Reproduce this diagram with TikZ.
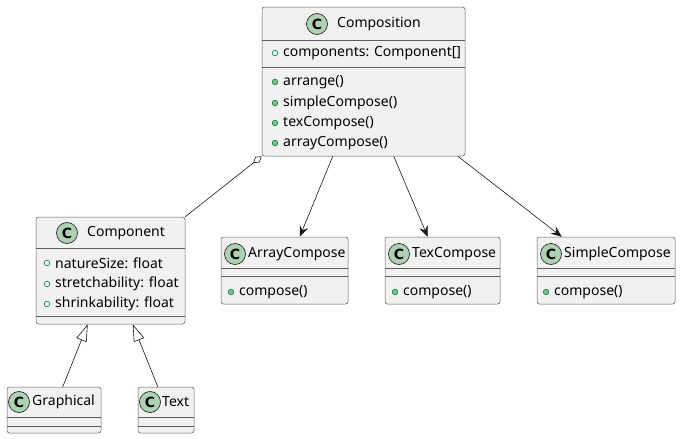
\documentclass[tikz,border=0pt]{standalone}
\usepackage{fontspec}
\setmainfont{Noto Sans}
\newfontfamily\spotfont{DejaVu Sans}
\usetikzlibrary{arrows.meta,calc}
\definecolor{boxfill}{HTML}{F1F1F1}
\definecolor{boxline}{HTML}{181818}
\definecolor{spotfill}{HTML}{ADD1B2}
\definecolor{fieldline}{HTML}{038048}
\definecolor{methodfill}{HTML}{84BE84}
\begin{document}
\begin{tikzpicture}[x=1pt, y=-1pt,
    font=\fontsize{14}{16}\selectfont,
    cls/.style={draw=boxline!70, fill=boxfill, rounded corners=2.5pt,
                line width=.5pt, inner sep=0pt},
    spot/.style={circle, draw=boxline, fill=spotfill, line width=.6pt,
                 minimum size=21pt, inner sep=0pt,
                 font=\spotfont\bfseries\fontsize{14}{14}\selectfont},
    title/.style={anchor=west, inner sep=0pt},
    member/.style={anchor=west, inner sep=0pt},
    field/.style={draw=fieldline, line width=.6pt},
    method/.style={draw=fieldline, fill=methodfill, line width=.6pt},
    link/.style={draw=boxline, line width=.6pt}]
  \useasboundingbox (0,0) rectangle (681,439);
  % class boxes: name / left / top / right / bottom
  \foreach \n/\xa/\ya/\xb/\yb in {cmp/262/7/465/156, cpt/36/217/185/324,
      gra/7/387/101/433, txt/138/387/194/433, arr/221/237/348/304,
      tex/385/237/500/304, sim/537/237/675/304}{
    \node[cls, minimum width={\xb-\xa}, minimum height={\yb-\ya}]
      (\n) at ({(\xa+\xb)/2},{(\ya+\yb)/2}) {};
  }
  % compartment lines
  \foreach \n/\y in {cmp/40, cmp/67, cpt/248, cpt/316, gra/417, gra/426,
      txt/417, txt/426, arr/268, arr/276, tex/268, tex/276, sim/268, sim/276}{
    \draw[boxline!70, line width=.5pt] (\n.west |- 0,\y) -- (\n.east |- 0,\y);
  }
  % headers
  \foreach \n/\cx/\tx/\y/\t in {cmp/317/337/24/Composition,
      cpt/67/87/233/Component, gra/19/32/402/Graphical, txt/150/162/402/Text,
      arr/235/248/254/ArrayCompose, tex/399/412/254/TexCompose,
      sim/551/564/254/SimpleCompose}{
    \node[spot] (\n-c) at (\cx,\y) {C};
    \node[title] (\n-t) at (\tx,\y) {\t};
  }
  % fields
  \foreach \x/\y/\t in {275/53/{components: Component[]},
      47/263/{natureSize: float}, 47/284/{stretchability: float},
      47/304/{shrinkability: float}}{
    \draw[field] (\x,\y) circle (2.8pt);
    \node[member] at (\x+8,\y) {\t};
  }
  % methods
  \foreach \x/\y/\t in {275/82/arrange(), 275/103/simpleCompose(),
      275/123/texCompose(), 275/143/arrayCompose(), 231/292/compose(),
      395/292/compose(), 546/292/compose()}{
    \draw[method] (\x,\y) circle (2.8pt);
    \node[member] at (\x+8,\y) {\t};
  }
  % relations
  \draw[link, {Diamond[open, length=11pt, width=7pt]}-]
    (cmp.south west) -- (cpt.north east);
  \draw[link, -{Stealth[length=11pt, width=9pt, inset=4pt]}]
    ($(cmp.south west)+(71,0)$) -- ($(arr.north west)+(79,0)$);
  \draw[link, -{Stealth[length=11pt, width=9pt, inset=4pt]}]
    ($(cmp.south west)+(132,0)$) -- ($(tex.north west)+(43,0)$);
  \draw[link, -{Stealth[length=11pt, width=9pt, inset=4pt]}]
    ($(cmp.south west)+(196,0)$) -- ($(sim.north west)+(25,0)$);
  \draw[link, -{Triangle[open, length=17pt, width=11pt]}]
    ($(gra.north west)+(56,0)$) -- ($(cpt.south west)+(52,0)$);
  \draw[link, -{Triangle[open, length=17pt, width=11pt]}]
    ($(txt.north west)+(20,0)$) -- ($(cpt.south west)+(97,0)$);
\end{tikzpicture}
\end{document}
